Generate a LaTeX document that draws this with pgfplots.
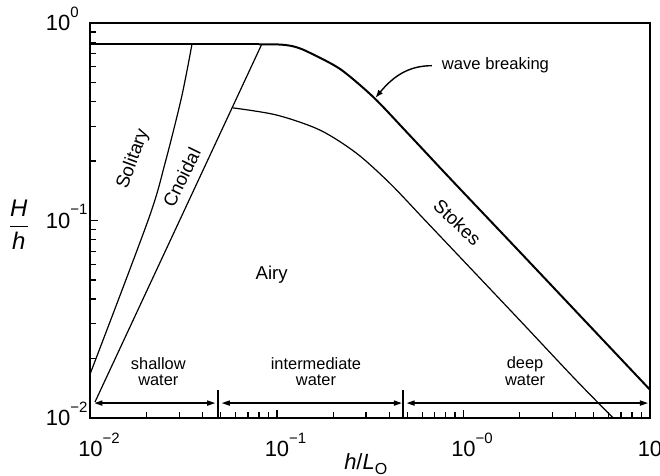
\documentclass[border=0pt]{standalone}
\usepackage{fontspec}
\setmainfont{Liberation Sans}
\usepackage{pgfplots}
\pgfplotsset{compat=1.18}
\usetikzlibrary{arrows.meta}

% 10 with a raised exponent that takes no room, so the "10" sits on the tick
\newcommand{\dec}[1]{10\rlap{\smash{\raisebox{0.6em}{\fontsize{7.5}{7.5}\selectfont #1}}}}

\begin{document}
\begin{tikzpicture}
\begin{loglogaxis}[
    scale only axis, width=279.75pt, height=197.5pt,
    xmin=0.01, xmax=10, ymin=0.01, ymax=1,
    xtick={0.01,0.1,1,10}, xticklabels={\dec{−2},\dec{−1},\dec{−0},\dec{1}},
    ytick={0.01,0.1,1}, yticklabels={\dec{−2},\dec{−1},\dec{0}},
    minor xtick={0.02,0.03,0.04,0.05,0.06,0.07,0.08,0.09,0.2,0.3,0.4,0.5,0.6,0.7,0.8,0.9,2,3,4,5,6,7,8,9},
    minor ytick={0.02,0.03,0.04,0.05,0.06,0.07,0.08,0.09,0.2,0.3,0.4,0.5,0.6,0.7,0.8,0.9},
    tick pos=left, tick align=inside,
    major tick length=4pt, minor tick length=3pt,
    every tick/.style={black, line width=0.6pt},
    axis line style={line width=1pt},
    ticklabel style={font=\fontsize{11}{12}\selectfont},
    xticklabel style={yshift=-8pt},
    yticklabel style={xshift=-6.5pt},
    xlabel={\textit{h}/\textit{L}\raisebox{-0.4ex}{\fontsize{8}{8}\selectfont O}},
    xlabel style={at={(rel axis cs:0.492,-0.117)}, anchor=center, font=\fontsize{11}{12}\selectfont},
    ylabel={$\displaystyle\frac{\textit{H}}{\textit{h}}$},
    ylabel style={rotate=-90, at={(rel axis cs:-0.128,0.49)}, anchor=center, font=\fontsize{12}{13}\selectfont},
    clip=false,
  ]
  % wave breaking limit: flat part, then the bend
  \addplot[black, line width=1pt] coordinates {(0.01,0.78)(0.08,0.78)};
  \addplot[black, line width=1pt, smooth, tension=0.45] coordinates {
    (0.08,0.78)(0.104,0.778)(0.122,0.762)(0.144,0.72)(0.218,0.585)
    (0.33,0.42)(0.5,0.278)(0.865,0.16)(2,0.0695)(5,0.0278)(10,0.0139)};
  % solitary / cnoidal
  \addplot[black, line width=0.6pt, smooth] coordinates {
    (0.01,0.0169)(0.0204,0.1007)(0.0251,0.195)(0.0308,0.422)(0.035,0.78)};
  % cnoidal / airy
  \addplot[black, line width=0.6pt] coordinates {(0.01057,0.01205)(0.0828,0.78)};
  % airy / stokes
  \addplot[black, line width=0.6pt, smooth, tension=0.5] coordinates {
    (0.0578,0.372)(0.0996,0.342)(0.170,0.287)(0.267,0.219)(0.404,0.154)
    (0.608,0.1026)(1,0.0625)(2,0.0313)(4,0.0156)(6.35,0.01)};

  % depth ranges
  \draw[line width=0.6pt, {Triangle[length=4pt,width=2.6pt]}-{Triangle[length=4pt,width=2.6pt]}]
    (axis cs:0.0105,0.0119) -- (axis cs:0.0466,0.0119);
  \draw[line width=0.6pt, {Triangle[length=4pt,width=2.6pt]}-{Triangle[length=4pt,width=2.6pt]}]
    (axis cs:0.0506,0.0119) -- (axis cs:0.467,0.0119);
  \draw[line width=0.6pt, {Triangle[length=4pt,width=2.6pt]}-{Triangle[length=4pt,width=2.6pt]}]
    (axis cs:0.496,0.0119) -- (axis cs:9.75,0.0119);
  \draw[line width=0.7pt] (axis cs:0.0483,0.0139) -- (axis cs:0.0483,0.01);
  \draw[line width=0.7pt] (axis cs:0.475,0.0139) -- (axis cs:0.475,0.01);

  \node[align=center, font=\fontsize{8.2}{8.4}\selectfont] at (axis cs:0.0231,0.01716) {shallow\\water};
  \node[align=center, font=\fontsize{8.2}{8.4}\selectfont] at (axis cs:0.1618,0.01716) {intermediate\\water};
  \node[align=center, font=\fontsize{8.2}{8.4}\selectfont] at (axis cs:2.14,0.0172) {deep\\water};

  \node[rotate=70, font=\fontsize{9.3}{10}\selectfont] at (axis cs:0.01695,0.205) {Solitary};
  \node[rotate=64, font=\fontsize{9.3}{10}\selectfont] at (axis cs:0.0308,0.165) {Cnoidal};
  \node[font=\fontsize{9.3}{10}\selectfont] at (axis cs:0.0937,0.053) {Airy};
  \node[rotate=-43, font=\fontsize{9.3}{10}\selectfont] at (axis cs:0.927,0.098) {Stokes};

  \node[anchor=west, font=\fontsize{8.3}{9}\selectfont, inner sep=0pt] at (axis cs:0.763,0.608) {wave breaking};
  \draw[line width=0.7pt, -{Latex[length=4pt,width=3pt]}]
    (axis cs:0.676,0.608) to[out=180, in=50] (axis cs:0.337,0.418);
\end{loglogaxis}
\pgfresetboundingbox
\path[use as bounding box] ([shift={(-45.25pt,-29pt)}]current axis.south west)
  rectangle ([shift={(5pt,11.5pt)}]current axis.north east);
\end{tikzpicture}
\end{document}
